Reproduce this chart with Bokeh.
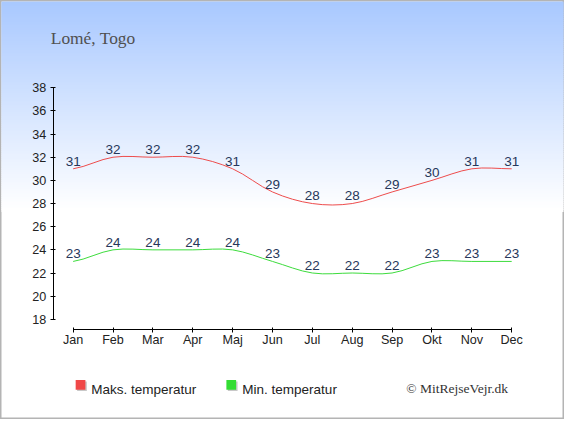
from bokeh.plotting import figure
from bokeh.models import (Range1d, LinearAxis, FixedTicker, BoxAnnotation, Label,
                          ColumnDataSource)
from bokeh.core.properties import value
from bokeh.embed import file_html
from bokeh.resources import INLINE

months = ["Jan", "Feb", "Mar", "Apr", "Maj", "Jun", "Jul", "Aug", "Sep", "Okt", "Nov", "Dec"]
max_temp = [31, 32, 32, 32, 31, 29, 28, 28, 29, 30, 31, 31]
min_temp = [23, 24, 24, 24, 24, 23, 22, 22, 22, 23, 23, 23]
y_ticks = [18, 20, 22, 24, 26, 28, 30, 32, 34, 36, 38]
title_text = "Lomé, Togo"
legend_labels = ["Maks. temperatur", "Min. temperatur"]
credit_text = "© MitRejseVejr.dk"

W, H = 564, 419
RW, RH = 580.0, 435.0          # reference layout size
SX, SY = W / RW, H / RH
SANS = "Liberation Sans"
SERIF = "Liberation Serif"


def fx(X):
    """reference x pixel -> screen x (from left)"""
    return X * SX


def fy(Y):
    """reference y pixel (from top) -> screen y (from bottom)"""
    return (RH - Y) * SY


def fs(px):
    return "%.1fpx" % (px * (SX + SY) / 2)


p = figure(width=W, height=H, output_backend="svg", toolbar_location=None,
           x_axis_type=None, y_axis_type=None, min_border=0, title=None,
           x_range=Range1d(-1.8220, 12.3244), y_range=Range1d(9.348, 45.537))
p.background_fill_color = "white"
p.border_fill_color = "white"
p.outline_line_color = "#b4b4b4"
p.outline_line_width = 2
p.xgrid.visible = False
p.ygrid.visible = False

# background gradient (light blue at top fading to white); bands overlap to avoid seams
top_rgb = (168, 200, 255)
grad_end = 217.0
step = 2.0
yref = 0.0
while yref < grad_end:
    t = (yref + step / 2) / grad_end
    c = tuple(int(round(top_rgb[k] + (255 - top_rgb[k]) * t)) for k in range(3))
    p.add_layout(BoxAnnotation(left=1, right=W - 1, top=min(fy(yref), H - 1),
                               bottom=fy(yref + step + 1.5),
                               left_units="screen", right_units="screen",
                               top_units="screen", bottom_units="screen",
                               fill_color="#%02x%02x%02x" % c, fill_alpha=1.0,
                               line_color=None, level="underlay"))
    yref += step

# axes
xaxis = LinearAxis(ticker=FixedTicker(ticks=list(range(len(months)))),
                   major_label_overrides={i: m for i, m in enumerate(months)})
xaxis.bounds = (0, len(months) - 1)
xaxis.fixed_location = 17.143
yaxis = LinearAxis(ticker=FixedTicker(ticks=y_ticks))
yaxis.bounds = (y_ticks[0], y_ticks[-1])
yaxis.fixed_location = -0.4976
for ax in (xaxis, yaxis):
    ax.axis_line_color = "black"
    ax.axis_line_width = 1
    ax.major_tick_line_color = "black"
    ax.major_tick_in = 2
    ax.major_tick_out = 3
    ax.minor_tick_line_color = None
    ax.major_label_text_font = SANS
    ax.major_label_text_font_size = fs(13)
    ax.major_label_text_color = "#222222"
xaxis.major_label_standoff = 1
yaxis.major_label_standoff = 4
p.add_layout(xaxis, "below")
p.add_layout(yaxis, "left")


def bezier_source(ys):
    n = len(ys)
    xs = list(range(n))
    m = []
    for i in range(n):
        a = ys[max(i - 1, 0)]
        b = ys[min(i + 1, n - 1)]
        m.append((b - a) / 2.0)
    d = dict(x0=[], y0=[], x1=[], y1=[], cx0=[], cy0=[], cx1=[], cy1=[])
    for i in range(n - 1):
        d["x0"].append(xs[i]); d["y0"].append(ys[i])
        d["x1"].append(xs[i + 1]); d["y1"].append(ys[i + 1])
        d["cx0"].append(xs[i] + 1 / 3); d["cy0"].append(ys[i] + m[i] / 3)
        d["cx1"].append(xs[i + 1] - 1 / 3); d["cy1"].append(ys[i + 1] - m[i + 1] / 3)
    return ColumnDataSource(d)


red = "#ee4c4c"
green = "#3ddc3d"
for ys, col in ((max_temp, red), (min_temp, green)):
    p.bezier(x0="x0", y0="y0", x1="x1", y1="y1", cx0="cx0", cy0="cy0", cx1="cx1", cy1="cy1",
             source=bezier_source(ys), line_color=col, line_width=1)
    p.text(x=list(range(len(ys))), y=ys, text=[str(v) for v in ys],
           text_font=value(SANS), text_font_size=fs(14), text_color="#27375a",
           text_align="center", text_baseline="alphabetic", y_offset=-8 * SY)

# title
p.add_layout(Label(x=fx(51.7), y=fy(39), x_units="screen", y_units="screen", text=title_text,
                   text_font=SERIF, text_font_size=fs(18), text_color="#505050",
                   text_baseline="alphabetic"))

# legend
for lx, tx, col, lab in ((77.3, 93.3, "#f04848", legend_labels[0]),
                         (232.3, 248.7, "#33dd33", legend_labels[1])):
    p.add_layout(BoxAnnotation(left=fx(lx + 1.5), right=fx(lx + 11.5),
                               top=fy(395.5), bottom=fy(405.5),
                               left_units="screen", right_units="screen",
                               top_units="screen", bottom_units="screen",
                               fill_color="#c8c8c8", fill_alpha=1.0, line_color=None))
    p.add_layout(BoxAnnotation(left=fx(lx), right=fx(lx + 10), top=fy(394), bottom=fy(404),
                               left_units="screen", right_units="screen",
                               top_units="screen", bottom_units="screen",
                               fill_color=col, fill_alpha=1.0, line_color=None))
    p.add_layout(Label(x=fx(tx), y=fy(403.5), x_units="screen", y_units="screen", text=lab,
                       text_font=SANS, text_font_size=fs(14), text_color="#222222",
                       text_baseline="alphabetic"))

p.add_layout(Label(x=fx(417.3), y=fy(402.7), x_units="screen", y_units="screen",
                   text=credit_text, text_font=SERIF, text_font_size=fs(14),
                   text_color="#333333", text_baseline="alphabetic"))

open("out.html", "w").write(file_html(p, INLINE))
